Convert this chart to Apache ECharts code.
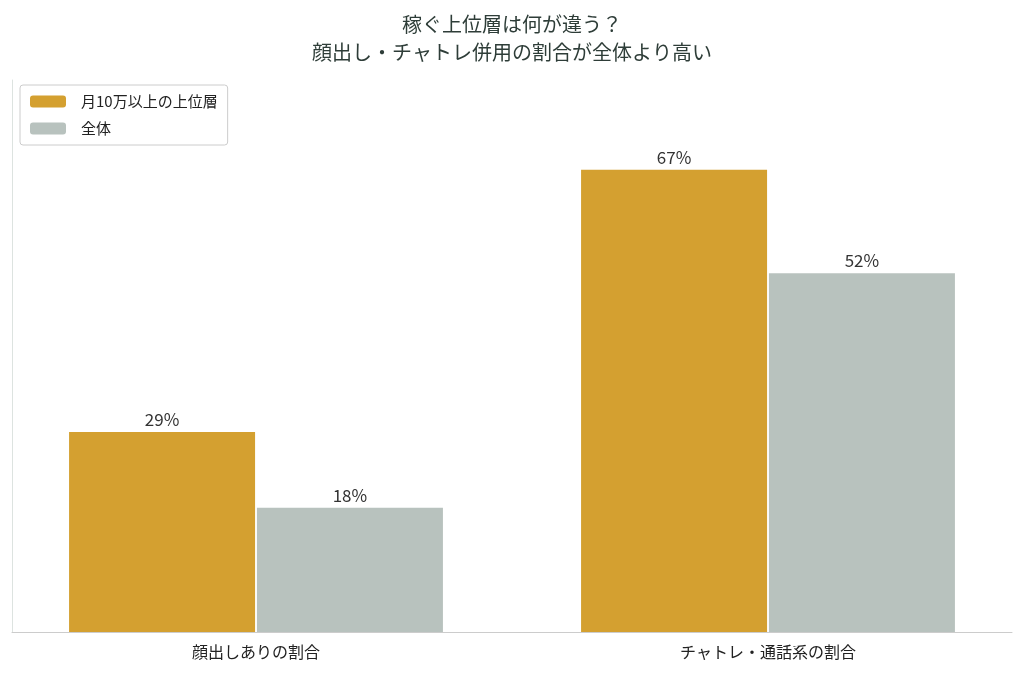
<!DOCTYPE html>
<html><head><meta charset="utf-8">
<script src="https://cdn.jsdelivr.net/npm/echarts@6/dist/echarts.min.js"></script>
<style>html,body{margin:0;padding:0;background:#fff}#c{width:1024px;height:675px}</style>
</head><body><div id="c"></div>
<script>
const categories = ['顔出しありの割合', 'チャトレ・通話系の割合'];
const seriesNames = ['月10万以上の上位層', '全体'];
const topValues = [29, 67];
const allValues = [18, 52];
const font = '"Noto Sans CJK JP", "Noto Sans", sans-serif';
const chart = echarts.init(document.getElementById('c'));
const lbl = {show:true, position:'top', formatter:'{c}%', color:'#333', fontSize:17, fontFamily:font, distance:4};
chart.setOption({
  animation:false,
  title:{text:'稼ぐ上位層は何が違う？\n顔出し・チャトレ併用の割合が全体より高い', left:'center', top:5,
    textStyle:{fontSize:20, fontWeight:'normal', color:'#2e3d38', fontFamily:font, lineHeight:28}},
  legend:{left:20, top:85, orient:'vertical', itemWidth:36, itemHeight:12, itemGap:12,
    padding:[9,10,9,10], borderColor:'#ccc', borderWidth:1, borderRadius:3,
    textStyle:{fontSize:15, color:'#222', fontFamily:font, padding:[0,0,0,10]}, data:seriesNames},
  grid:[{left:-24, right:-24, top:80, bottom:43},{left:12, right:12, top:80, bottom:43}],
  xAxis:[{type:'category', data:categories, gridIndex:0, axisTick:{show:false},
    axisLine:{show:false},
    axisLabel:{fontSize:16, color:'#222', fontFamily:font, margin:12}},
    {type:'category', data:categories, gridIndex:1, axisTick:{show:false}, axisLabel:{show:false},
    axisLine:{lineStyle:{color:'#ccc'}}}],
  yAxis:[{type:'value', gridIndex:0, min:0, max:80, axisLabel:{show:false}, splitLine:{show:false},
    axisLine:{show:false}, axisTick:{show:false}},
    {type:'value', gridIndex:1, min:0, max:80, axisLabel:{show:false}, splitLine:{show:false},
    axisLine:{show:true, lineStyle:{color:'#dde3e0'}}, axisTick:{show:false}}],
  series:[
    {name:seriesNames[0], type:'bar', data:topValues, barWidth:186, barGap:'1%',
      itemStyle:{color:'#D4A030'}, label:lbl},
    {name:seriesNames[1], type:'bar', data:allValues, barWidth:186,
      itemStyle:{color:'#B8C2BE'}, label:lbl}
  ]
});
</script></body></html>
